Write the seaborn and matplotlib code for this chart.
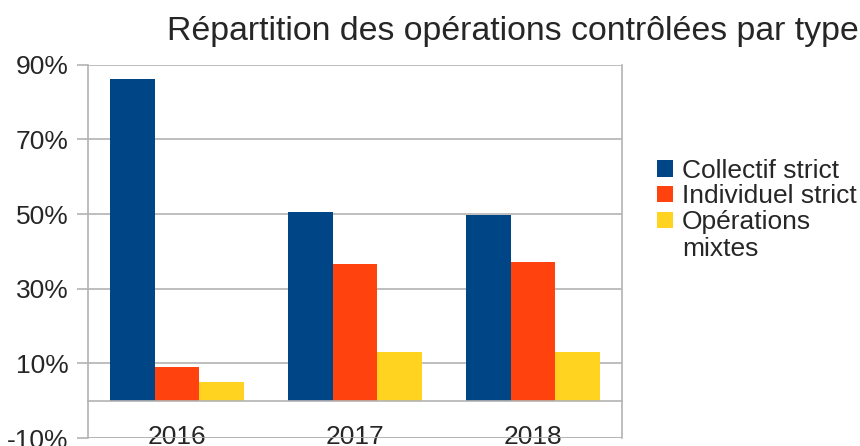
import matplotlib
matplotlib.use("Agg")
import matplotlib.pyplot as plt
import matplotlib.ticker as mticker
import seaborn as sns
import pandas as pd
from matplotlib.patches import Patch, Rectangle
from matplotlib.legend_handler import HandlerPatch

years = ["2016", "2017", "2018"]
series = ["Collectif strict", "Individuel strict", "Opérations mixtes"]
legend_labels = ["Collectif strict", "Individuel strict", "Opérations\nmixtes"]
collectif = [86.1, 50.6, 49.8]
individuel = [9.1, 36.7, 37.2]
mixtes = [5.1, 13.1, 13.1]
colors = ["#004586", "#ff420e", "#ffd320"]
yticks = [-10, 10, 30, 50, 70, 90]

rows = []
for name, vals in zip(series, [collectif, individuel, mixtes]):
    for y, v in zip(years, vals):
        rows.append({"Année": y, "Type": name, "Valeur": v})
df = pd.DataFrame(rows)

sns.set_style("white")
plt.rcParams["font.family"] = ["Liberation Sans", "DejaVu Sans"]

fig = plt.figure(figsize=(8.6, 4.46), dpi=100)
ax = fig.add_axes([88/860, 1-438/446, (622-88)/860, (438-64.7)/446])

sns.barplot(data=df, x="Année", y="Valeur", hue="Type", hue_order=series,
            palette=colors, width=0.75, saturation=1, ax=ax, legend=False,
            errorbar=None, linewidth=0)

ax.set_ylim(-10, 90)
ax.set_xlim(-0.5, 2.5)
ax.set_yticks(yticks)
ax.yaxis.set_major_formatter(mticker.FuncFormatter(lambda v, p: f"{int(v)}%"))
ax.set_xlabel("")
ax.set_ylabel("")

gray = "#b3b3b3"
ax.yaxis.grid(True, color=gray, linewidth=1.2)
ax.set_axisbelow(True)
for s in ["left", "right", "top", "bottom"]:
    ax.spines[s].set_color(gray)
    ax.spines[s].set_linewidth(1.2)
ax.spines["top"].set_visible(False)
ax.spines["bottom"].set_position(("data", 0))

ax.tick_params(axis="y", direction="out", length=8, color=gray, width=1.2,
               labelsize=19, pad=6, left=True)
ax.set_xticks([0, 1, 2])
ax.set_xticks([-0.5, 0.5, 1.5, 2.5], minor=True)
ax.tick_params(axis="x", which="major", length=0, labelsize=19, pad=17.5)
ax.tick_params(axis="x", which="minor", direction="out", length=8, color=gray, width=1.2)
ax.axhline(-10, color=gray, linewidth=1.2, zorder=0)

fig.text(513/860, 1-40/446, "Répartition des opérations contrôlées par type",
         ha="center", va="baseline", fontsize=24.4)


class ShiftHandler(HandlerPatch):
    def __init__(self, dy=0.0):
        super().__init__()
        self.dy = dy

    def create_artists(self, legend, orig_handle, xdescent, ydescent, width,
                       height, fontsize, trans):
        p = Rectangle((-xdescent, -ydescent + self.dy * fontsize), width, height,
                      facecolor=orig_handle.get_facecolor(), edgecolor="none",
                      transform=trans)
        return [p]


handles = [Patch(facecolor=c, edgecolor="none") for c in colors]
handler_map = {handles[0]: ShiftHandler(0), handles[1]: ShiftHandler(0),
               handles[2]: ShiftHandler(0.6)}
fig.legend(handles, legend_labels, loc="upper left",
           bbox_to_anchor=(657/860, 1-159/446), frameon=False, fontsize=19,
           handlelength=0.6, handleheight=0.6, handletextpad=0.35,
           labelspacing=0.05, borderaxespad=0, borderpad=0,
           handler_map=handler_map)

fig.savefig("out.png", dpi=100)
